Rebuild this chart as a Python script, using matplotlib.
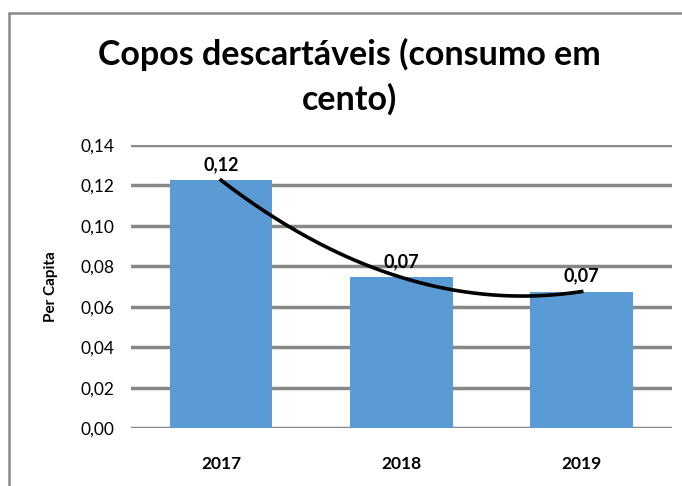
import numpy as np
import matplotlib.pyplot as plt
from matplotlib.patches import Rectangle

anos = ["2017", "2018", "2019"]
per_capita = [0.1225, 0.0745, 0.0675]
rotulos = ["0,12", "0,07", "0,07"]
yticks = [0.00, 0.02, 0.04, 0.06, 0.08, 0.10, 0.12, 0.14]

plt.rcParams['font.family'] = ['Lato', 'DejaVu Sans']

fig = plt.figure(figsize=(6.82, 4.86), dpi=100)
ax = fig.add_axes([0.192, 0.119, 0.793, 0.583])

x = np.arange(len(anos))
ax.bar(x, per_capita, width=0.57, color="#5b9bd5", zorder=2)

# trendline: polinomial de ordem 2 (as in Excel)
coef = np.polyfit(x, per_capita, 2)
xs = np.linspace(x[0], x[-1], 200)
ax.plot(xs, np.polyval(coef, xs), color="black", lw=2.6, zorder=3)

for xi, v, r in zip(x, per_capita, rotulos):
    ax.annotate(r, (xi, v), xytext=(0, 5), textcoords="offset points",
                ha="center", va="bottom", fontsize=13, fontweight="bold")

ax.set_xlim(-0.5, 2.5)
ax.set_ylim(0, 0.14)
ax.set_yticks(yticks)
ax.set_yticklabels([f"{t:.2f}".replace(".", ",") for t in yticks], fontsize=12.5)
ax.set_xticks(x)
ax.set_xticklabels(anos, fontsize=12.5, fontweight="bold")
ax.tick_params(length=0, pad=12)
ax.tick_params(axis="x", pad=20)
ax.grid(axis="y", color="#888888", lw=2.5, zorder=1)
for s in ax.spines.values():
    s.set_visible(False)
ax.set_ylabel("Per Capita", fontsize=11, fontweight="bold", labelpad=16)

fig.text(0.513, 0.887, "Copos descartáveis (consumo em", ha="center", va="center",
         fontsize=24.5, fontweight="bold")
fig.text(0.513, 0.795, "cento)", ha="center", va="center",
         fontsize=24.5, fontweight="bold")

fig.patches.append(Rectangle((9 / 682, -0.1), 1.2, 1.073, transform=fig.transFigure,
                             fill=False, edgecolor="#888888", lw=1.8))

fig.savefig("out.png", dpi=100)
